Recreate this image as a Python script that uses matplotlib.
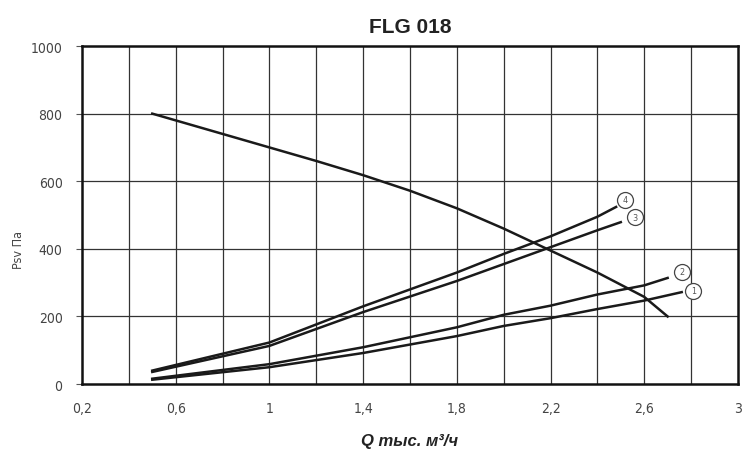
import matplotlib
matplotlib.use("Agg")
import matplotlib.pyplot as plt
import numpy as np

# fan curve (pressure drop vs flow)
fan_q = [0.5, 0.8, 1.0, 1.2, 1.4, 1.6, 1.8, 2.0, 2.2, 2.4, 2.6, 2.7]
fan_p = [800, 740, 700, 660, 618, 572, 520, 460, 395, 330, 258, 200]

# numbered system curves
curve_labels = ["1", "2", "3", "4"]
curve_q = [
    [0.5, 1.0, 1.4, 1.8, 2.0, 2.2, 2.4, 2.6, 2.76],
    [0.5, 1.0, 1.4, 1.8, 2.0, 2.2, 2.4, 2.6, 2.70],
    [0.5, 1.0, 1.4, 1.8, 2.0, 2.2, 2.4, 2.5],
    [0.5, 1.0, 1.4, 1.8, 2.0, 2.2, 2.4, 2.48],
]
curve_p = [
    [13, 50, 92, 142, 172, 195, 222, 247, 272],
    [16, 59, 109, 168, 205, 232, 265, 292, 314],
    [36, 113, 213, 305, 355, 405, 455, 479],
    [40, 123, 230, 330, 385, 437, 495, 524],
]
# label bubble positions
bubble_q = [2.81, 2.76, 2.56, 2.52]
bubble_p = [276, 332, 493, 545]

xticks = [0.2, 0.6, 1.0, 1.4, 1.8, 2.2, 2.6, 3.0]
xtick_labels = ["0,2", "0,6", "1", "1,4", "1,8", "2,2", "2,6", "3"]
yticks = [0, 200, 400, 600, 800, 1000]

narrow = dict(family="DejaVu Sans", stretch="condensed")

fig = plt.figure(figsize=(7.42, 4.52), dpi=100)
ax = fig.add_axes([0.1105, 0.148, 0.884, 0.748])

ax.set_xlim(0.2, 3.0)
ax.set_ylim(0, 1000)

# grid
for q in np.arange(0.4, 3.0, 0.2):
    ax.axvline(q, color="#333333", lw=0.9, zorder=1)
for p in yticks[1:-1]:
    ax.axhline(p, color="#333333", lw=0.9, zorder=1)

ax.plot(fan_q, fan_p, color="#1a1a1a", lw=1.8, zorder=3)
for q, p in zip(curve_q, curve_p):
    ax.plot(q, p, color="#1a1a1a", lw=1.8, zorder=3)

for lab, q, p in zip(curve_labels, bubble_q, bubble_p):
    ax.plot(q, p, marker="o", ms=11.5, mfc="white", mec="#444444", mew=0.9, zorder=4)
    ax.text(q, p, lab, ha="center", va="center", fontsize=6.5, color="#555555",
            zorder=5, **narrow)

ax.set_xticks(xticks)
ax.set_xticklabels(xtick_labels)
ax.set_yticks(yticks)
ax.tick_params(axis="x", length=0, pad=12, labelsize=10, labelcolor="#444444")
ax.tick_params(axis="y", length=4, width=0.8, color="#555555", pad=10,
               labelsize=10, labelcolor="#444444")
for lbl in ax.get_xticklabels() + ax.get_yticklabels():
    lbl.set_family("DejaVu Sans")
    lbl.set_stretch("condensed")

for s in ax.spines.values():
    s.set_linewidth(1.8)
    s.set_color("#111111")

fig.text(18 / 742, 1 - 250 / 452, "Psv Па", rotation=90, ha="center", va="center",
         fontsize=9, color="#444444", **narrow)
ax.set_xlabel("Q тыс. м³/ч", fontsize=12, fontweight="bold", style="italic",
              family=["Liberation Sans", "DejaVu Sans"], color="#222222", labelpad=13)
ax.set_title("FLG 018", fontsize=15, fontweight="bold",
             family=["Liberation Sans", "DejaVu Sans"], color="#222222", pad=10)

fig.savefig("out.png", dpi=100)
